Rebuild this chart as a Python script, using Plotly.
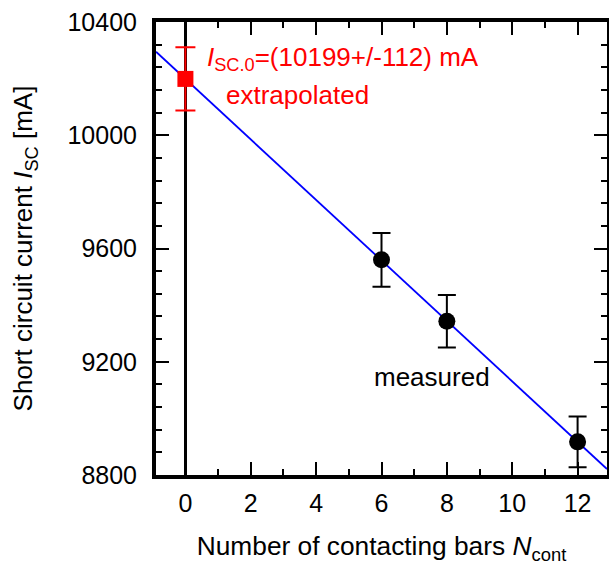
import plotly.graph_objects as go

# Data
n_measured = [6, 8, 12]
isc_measured = [9560, 9343, 8917]
isc_measured_err = [95, 93, 90]

n_extrap = [0]
isc_extrap = [10199]
isc_extrap_err = [112]

fit_x = [-0.9, 12.9]
fit_y = [10295, 8821]

x_ticks = [0, 2, 4, 6, 8, 10, 12]
y_ticks = [8800, 9200, 9600, 10000, 10400]

FONT = "Liberation Sans, Arial, Helvetica, sans-serif"

fig = go.Figure()

fig.add_trace(go.Scatter(
    x=fit_x, y=fit_y, mode="lines",
    line=dict(color="#0000ff", width=1.8),
    showlegend=False, hoverinfo="skip"))

fig.add_trace(go.Scatter(
    x=n_extrap, y=isc_extrap, mode="markers",
    marker=dict(symbol="square", size=16, color="#ff0000"),
    error_y=dict(type="data", array=isc_extrap_err, color="#ff0000",
                 thickness=2, width=10),
    showlegend=False))

fig.add_trace(go.Scatter(
    x=n_measured, y=isc_measured, mode="markers",
    marker=dict(symbol="circle", size=17, color="#000000"),
    error_y=dict(type="data", array=isc_measured_err, color="#000000",
                 thickness=2, width=9),
    showlegend=False))

fig.add_annotation(
    x=0.6, y=10272, xref="x", yref="y", xanchor="left", yanchor="middle",
    text="<i>I</i><sub>SC.0</sub>=(10199+/-112) mA", showarrow=False,
    font=dict(family=FONT, size=26, color="#ff0000"))
fig.add_annotation(
    x=3.43, y=10142, xref="x", yref="y", xanchor="center", yanchor="middle",
    text="extrapolated", showarrow=False,
    font=dict(family=FONT, size=26, color="#ff0000"))
fig.add_annotation(
    x=7.56, y=9146, xref="x", yref="y", xanchor="center", yanchor="middle",
    text="measured", showarrow=False,
    font=dict(family=FONT, size=26, color="#000000"))

fig.update_xaxes(
    range=[-0.9, 12.9], tickmode="array", tickvals=x_ticks,
    ticks="inside", ticklen=13, tickwidth=2, tickcolor="black",
    minor=dict(dtick=1, tick0=0, ticks="inside", ticklen=6, tickwidth=2, tickcolor="black"),
    showline=True, linewidth=4, linecolor="black", mirror="ticks",
    showgrid=False, zeroline=True, zerolinecolor="black", zerolinewidth=3,
    tickfont=dict(family=FONT, size=25, color="black"),
    ticklabelstandoff=3,
    title=dict(text="Number of contacting bars <i>N</i><sub>cont</sub>",
               font=dict(family=FONT, size=26.3, color="black"), standoff=22))

fig.update_yaxes(
    range=[8800, 10400], tickmode="array", tickvals=y_ticks, tickformat="d",
    ticks="inside", ticklen=13, tickwidth=2, tickcolor="black",
    minor=dict(dtick=80, tick0=8800, ticks="inside", ticklen=6, tickwidth=2, tickcolor="black"),
    showline=True, linewidth=4, linecolor="black", mirror="ticks",
    showgrid=False, zeroline=False,
    tickfont=dict(family=FONT, size=25, color="black"),
    ticklabelstandoff=10,
    title=dict(text="Short circuit current <i>I</i><sub>SC</sub> [mA]",
               font=dict(family=FONT, size=26, color="black"), standoff=28))

fig.update_layout(
    width=609, height=579,
    margin=dict(l=156, r=2, t=22, b=104, autoexpand=False),
    plot_bgcolor="white", paper_bgcolor="white",
    showlegend=False)

fig.write_html("out.html", config={"displayModeBar": False},
               post_script="document.body.style.margin='0px';document.body.style.overflow='hidden';")
